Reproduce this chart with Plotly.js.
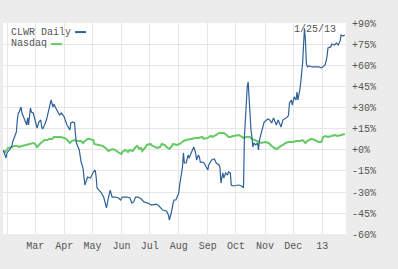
<!DOCTYPE html>
<html><head><meta charset="utf-8">
<script src="https://cdn.plot.ly/plotly-3.0.1.min.js"></script>
<style>html,body{margin:0;padding:0;background:#ececec;}#chart{width:398px;height:269px;}</style>
</head><body><div id="chart"></div>
<script>
const clwrDates = ["2012-01-27","2012-01-30","2012-01-31","2012-02-03","2012-02-05","2012-02-06","2012-02-08","2012-02-10","2012-02-11","2012-02-12","2012-02-13","2012-02-15","2012-02-16","2012-02-18","2012-02-20","2012-02-21","2012-02-22","2012-02-23","2012-02-25","2012-02-26","2012-02-28",
"2012-03-01","2012-03-02","2012-03-03","2012-03-05","2012-03-07","2012-03-08","2012-03-09","2012-03-11","2012-03-13","2012-03-15","2012-03-17","2012-03-18","2012-03-20","2012-03-21","2012-03-23","2012-03-26","2012-03-27","2012-03-29",
"2012-04-01","2012-04-02","2012-04-04","2012-04-07","2012-04-08","2012-04-10","2012-04-12","2012-04-13","2012-04-14","2012-04-17","2012-04-18","2012-04-19","2012-04-21","2012-04-22","2012-04-23","2012-04-26","2012-04-29",
"2012-05-02","2012-05-04","2012-05-05","2012-05-06","2012-05-07","2012-05-10","2012-05-13","2012-05-14","2012-05-16","2012-05-18","2012-05-20","2012-05-22","2012-05-25","2012-05-29","2012-05-31",
"2012-06-02","2012-06-07","2012-06-10","2012-06-12","2012-06-14","2012-06-16","2012-06-19","2012-06-22","2012-06-25","2012-06-29",
"2012-07-03","2012-07-08","2012-07-11","2012-07-15","2012-07-19","2012-07-21","2012-07-22","2012-07-24","2012-07-26","2012-07-27","2012-07-29",
"2012-08-01","2012-08-02","2012-08-03","2012-08-05","2012-08-06","2012-08-07","2012-08-09","2012-08-11","2012-08-12","2012-08-14","2012-08-16","2012-08-17","2012-08-19","2012-08-20","2012-08-22","2012-08-23","2012-08-24","2012-08-26","2012-08-28",
"2012-09-01","2012-09-02","2012-09-05","2012-09-08","2012-09-10","2012-09-13","2012-09-14","2012-09-15","2012-09-17","2012-09-18","2012-09-20","2012-09-22","2012-09-23","2012-09-25","2012-09-26","2012-09-28",
"2012-10-04","2012-10-07","2012-10-09","2012-10-10","2012-10-11","2012-10-12","2012-10-13","2012-10-14","2012-10-15","2012-10-16","2012-10-17","2012-10-18","2012-10-19","2012-10-20","2012-10-22","2012-10-24","2012-10-25","2012-10-26","2012-10-28","2012-10-29","2012-10-31",
"2012-11-04","2012-11-06","2012-11-08","2012-11-10","2012-11-11","2012-11-13","2012-11-15","2012-11-16","2012-11-18","2012-11-20","2012-11-22","2012-11-25","2012-11-26","2012-11-27","2012-11-29","2012-11-30",
"2012-12-02","2012-12-04","2012-12-05","2012-12-06","2012-12-08","2012-12-09","2012-12-11","2012-12-12","2012-12-13","2012-12-14","2012-12-15","2012-12-16","2012-12-18","2012-12-21","2012-12-24","2012-12-28","2012-12-31",
"2013-01-04","2013-01-06","2013-01-07","2013-01-10","2013-01-11","2013-01-14","2013-01-16","2013-01-18","2013-01-20","2013-01-21","2013-01-23","2013-01-25"];
const clwrPct = [0,-5.7,-2.1,0,2.1,5.7,9.3,12.9,21.4,26.4,27.1,30.7,26.4,22.9,20,17.9,22.9,17.9,30,27.1,26.4,
21.4,17.9,15.7,20,21.4,16.4,15,17.9,21.4,27.1,32.1,35.7,30.7,32.9,30,26.4,25,26.4,
23.6,21.4,17.9,14.3,19.3,20,19.3,10.7,5,0,-5.7,-8.6,-12.9,-19.3,-25,-19.3,-20,
-15.7,-14.3,-19.3,-27.1,-27.9,-30,-33.6,-37.1,-41.4,-34.3,-28.6,-33.6,-33.6,-34.3,-35.7,
-33.6,-33.6,-34.3,-37.9,-37.1,-33.6,-33.6,-35,-37.1,-37.9,
-39.3,-38.6,-40,-42.9,-43.6,-46.4,-50,-45,-37.9,-35.7,-35.7,
-30.7,-25,-21.4,-12.1,-2.1,-9.3,-9.3,-3.6,-5.7,-2.1,0,2.1,-2.1,-7.1,-3.6,-5,-8.6,-8.6,-9.3,
-14.3,-10.7,-7.1,-6.4,-9.3,-10.7,-12.9,-23.6,-16.4,-20,-16.4,-17.9,-15.7,-16.4,-25,-25.7,
-25,-25.7,-27.1,9.3,23.6,35.7,45,48.6,36,23.6,14.3,9.3,2.1,5,3.6,5,0,7.1,12.1,16.4,20,
22.1,21.4,19.3,22.9,21.4,17.9,21.4,19.3,16.4,21.4,22.1,23.6,25,33.6,35.7,32.1,
37.9,35.7,41.4,35.7,42.9,47.9,62.1,78.6,87,78.6,62.1,59.3,60,59.3,59.3,59.3,58.6,
60.7,66.4,72.9,73.6,75.7,75,76.4,75,77.9,82.1,81.4,82.1];

const nasdaqDates = ["2012-01-27","2012-01-29","2012-01-31","2012-02-01","2012-02-05","2012-02-08","2012-02-11","2012-02-13","2012-02-16","2012-02-20","2012-02-22","2012-02-25","2012-02-28",
"2012-03-01","2012-03-03","2012-03-06","2012-03-08","2012-03-11","2012-03-14","2012-03-16","2012-03-19","2012-03-21","2012-03-23","2012-03-26","2012-03-28",
"2012-04-01","2012-04-03","2012-04-07","2012-04-09","2012-04-12","2012-04-15","2012-04-19","2012-04-21","2012-04-23","2012-04-26","2012-04-28",
"2012-05-02","2012-05-03","2012-05-07","2012-05-12","2012-05-15","2012-05-18","2012-05-20","2012-05-23","2012-05-27","2012-05-28",
"2012-06-01","2012-06-02","2012-06-05","2012-06-08","2012-06-10","2012-06-13","2012-06-16","2012-06-18","2012-06-20","2012-06-22","2012-06-23","2012-06-26","2012-06-28",
"2012-07-02","2012-07-04","2012-07-07","2012-07-09","2012-07-12","2012-07-14","2012-07-17","2012-07-19","2012-07-22","2012-07-24","2012-07-26","2012-07-30",
"2012-08-02","2012-08-06","2012-08-09","2012-08-14","2012-08-19","2012-08-22","2012-08-26","2012-08-28",
"2012-09-01","2012-09-04","2012-09-06","2012-09-10","2012-09-13","2012-09-15","2012-09-18","2012-09-21","2012-09-23","2012-09-25","2012-09-28",
"2012-10-04","2012-10-07","2012-10-09","2012-10-12","2012-10-16","2012-10-18","2012-10-21","2012-10-25","2012-10-28",
"2012-11-01","2012-11-05","2012-11-08","2012-11-11","2012-11-14","2012-11-16","2012-11-20","2012-11-23","2012-11-26",
"2012-12-01","2012-12-04","2012-12-08","2012-12-11","2012-12-14","2012-12-16","2012-12-20","2012-12-24","2012-12-28","2012-12-31",
"2013-01-02","2013-01-04","2013-01-07","2013-01-11","2013-01-14","2013-01-17","2013-01-21","2013-01-25"];
const nasdaqPct = [-0.7,-1.4,0,1.4,2.1,2.9,2.9,2.1,2.9,3.6,4.3,5,5,
4.3,2.1,4.3,5.7,7.1,7.1,7.9,7.9,9.3,9.3,9.3,9.3,
8.6,7.9,5,6.4,7.1,6.4,6.4,5,6.4,7.9,7.9,
7.1,4.3,3.6,2.9,1.4,-0.7,0,0.7,-0.7,-1.4,
-2.9,-1.4,0,-1.4,0,-0.7,2.1,2.9,0.7,1.4,-0.7,1.4,3.6,
4.3,2.9,2.1,1.4,2.1,4.3,3.6,2.1,0.7,2.1,4.3,3.6,
4.3,6.4,7.1,7.9,8.6,8.6,9.3,7.9,
8.6,10,9.3,10.7,12.1,12.1,12.1,10.7,9.3,9.3,10,
10.7,9.3,8.6,9.3,9.3,7.9,7.1,5.7,5,
5.7,5,2.9,1.4,0.7,2.1,3.6,5,5.7,
5.7,6.4,6.4,7.1,5,6.4,7.9,7.1,5.7,5.7,
9.3,10,9.3,10,10.7,10,10.7,11.4];

const tickDates = ["2012-02-01","2012-03-01","2012-04-01","2012-05-01","2012-06-01","2012-07-01","2012-08-01","2012-09-01","2012-10-01","2012-11-01","2012-12-01","2013-01-01"];
const tickLabels = ["","Mar","Apr","May","Jun","Jul","Aug","Sep","Oct","Nov","Dec","13"];
const yTicks = [-60,-45,-30,-15,0,15,30,45,60,75,90];
const yLabels = ["-60%","-45%","-30%","-15%","+0%","+15%","+30%","+45%","+60%","+75%","+90%"];

const FONT = "Liberation Mono, DejaVu Sans Mono, monospace";
const TXT = "#555";
const BLUE = "#2e6199";
const GREEN = "#64ca64";

const traces = [
  {x: nasdaqDates, y: nasdaqPct, type: "scatter", mode: "lines", name: "Nasdaq",
   line: {color: GREEN, width: 2}, hoverinfo: "skip"},
  {x: clwrDates, y: clwrPct, type: "scatter", mode: "lines", name: "CLWR Daily",
   line: {color: BLUE, width: 1.2}, hoverinfo: "skip"}
];

const layout = {
  width: 398, height: 269,
  margin: {l: 3, r: 52, t: 23, b: 35},
  paper_bgcolor: "#ececec",
  plot_bgcolor: "#ffffff",
  showlegend: false,
  font: {family: FONT, size: 10, color: TXT},
  xaxis: {
    type: "date",
    range: ["2012-01-26 18:00", "2013-01-26 06:00"],
    tickmode: "array", tickvals: tickDates, ticktext: tickLabels,
    showgrid: true, gridcolor: "#e6e6e6", gridwidth: 1,
    zeroline: false, showline: false, ticks: "",
    tickfont: {family: FONT, size: 10, color: TXT},
    ticklabelstandoff: 4, fixedrange: true
  },
  yaxis: {
    side: "right",
    range: [-60, 90.7],
    tickmode: "array", tickvals: yTicks, ticktext: yLabels,
    showgrid: true, gridcolor: "#e6e6e6", gridwidth: 1,
    zeroline: false, showline: false, ticks: "",
    tickfont: {family: FONT, size: 10, color: TXT},
    ticklabelstandoff: 5, fixedrange: true
  },
  annotations: [
    {xref: "paper", yref: "paper", x: 0.017, y: 0.955, xanchor: "left", yanchor: "middle",
     text: "CLWR Daily", showarrow: false, font: {family: FONT, size: 10, color: TXT}},
    {xref: "paper", yref: "paper", x: 0.017, y: 0.903, xanchor: "left", yanchor: "middle",
     text: "Nasdaq", showarrow: false, font: {family: FONT, size: 10, color: TXT}},
    {xref: "paper", yref: "paper", x: 0.977, y: 0.967, xanchor: "right", yanchor: "middle",
     text: "1/25/13", showarrow: false, font: {family: FONT, size: 10, color: TXT}}
  ],
  shapes: [
    {type: "line", xref: "paper", yref: "paper", x0: 0.21, x1: 0.242, y0: 0.957, y1: 0.957,
     line: {color: BLUE, width: 2}},
    {type: "line", xref: "paper", yref: "paper", x0: 0.14, x1: 0.172, y0: 0.900, y1: 0.900,
     line: {color: GREEN, width: 2}}
  ]
};

Plotly.newPlot("chart", traces, layout, {displayModeBar: false, staticPlot: true});
</script>
</body></html>
